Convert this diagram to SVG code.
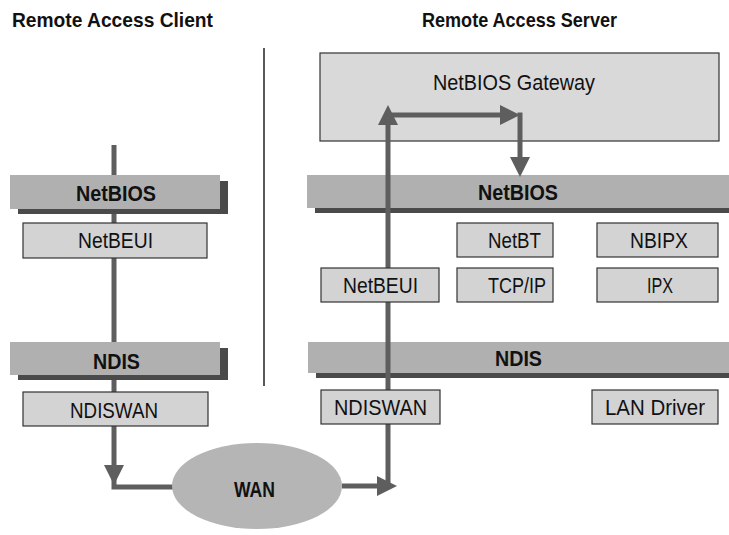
<svg xmlns="http://www.w3.org/2000/svg" width="729" height="535" viewBox="0 0 729 535">
<style>
text { font-family: "Liberation Sans Narrow", "Liberation Sans", Arial, sans-serif; fill: #111; }
.title { font-size: 20.5px; font-weight: bold; }
.lbl { font-size: 22px; }
.blbl { font-size: 22.5px; font-weight: bold; }
.bar { fill: #b0b0b0; }
.shadow { fill: #4a4a4a; }
.box { fill: #d3d3d3; stroke: #333; stroke-width: 1.2; }
.gw { fill: #d9d9d9; stroke: #333; stroke-width: 1.2; }
.wire { fill: none; stroke: #5e5e5e; stroke-width: 5; }
.divider { stroke: #222; stroke-width: 1.5; }
</style>
<defs>
<marker id="ah" markerUnits="userSpaceOnUse" markerWidth="22" markerHeight="22" refX="14" refY="10" orient="auto">
<path d="M0,0 L20,10 L0,20 z" fill="#5e5e5e"/>
</marker>
</defs>
<rect width="729" height="535" fill="#fff"/>

<g id="titles">
<text class="title" x="12" y="27" textLength="201" lengthAdjust="spacingAndGlyphs">Remote Access Client</text>
<text class="title" x="422" y="27" textLength="195" lengthAdjust="spacingAndGlyphs">Remote Access Server</text>
</g>
<line class="divider" x1="264" y1="48" x2="264" y2="386"/>

<g id="gateway">
<rect class="gw" x="320" y="53" width="399" height="88"/>
<text class="lbl" x="433" y="90" textLength="162" lengthAdjust="spacingAndGlyphs">NetBIOS Gateway</text>
</g>

<g id="client-wire">
<path class="wire" d="M114 145 V479" marker-end="url(#ah)"/>
<path class="wire" d="M114 478 V487 H176"/>
</g>

<g id="client-netbios">
<rect class="shadow" x="18" y="181" width="210" height="33"/>
<rect class="bar" x="10" y="175" width="210" height="34"/>
<text class="blbl" x="76" y="201" textLength="80" lengthAdjust="spacingAndGlyphs">NetBIOS</text>
</g>
<g id="client-netbeui">
<rect class="box" x="23" y="223" width="184" height="35"/>
<text class="lbl" x="78" y="248" textLength="75" lengthAdjust="spacingAndGlyphs">NetBEUI</text>
</g>
<g id="client-ndis">
<rect class="shadow" x="18" y="348" width="210" height="32"/>
<rect class="bar" x="10" y="342" width="210" height="33"/>
<text class="blbl" x="93" y="369" textLength="47" lengthAdjust="spacingAndGlyphs">NDIS</text>
</g>
<g id="client-ndiswan">
<rect class="box" x="23" y="392" width="185" height="34"/>
<text class="lbl" x="70" y="418" textLength="88" lengthAdjust="spacingAndGlyphs">NDISWAN</text>
</g>

<g id="server-netbios">
<rect class="shadow" x="315" y="180" width="414" height="33"/>
<rect class="bar" x="307" y="175" width="422" height="33"/>
<text class="blbl" x="478" y="200" textLength="80" lengthAdjust="spacingAndGlyphs">NetBIOS</text>
</g>
<g id="server-ndis">
<rect class="shadow" x="316" y="347" width="413" height="31"/>
<rect class="bar" x="308" y="342" width="421" height="31"/>
<text class="blbl" x="495" y="366" textLength="47" lengthAdjust="spacingAndGlyphs">NDIS</text>
</g>

<g id="server-wire">
<path class="wire" d="M342 486 H391" marker-end="url(#ah)"/>
<path class="wire" d="M388 488 V111" marker-end="url(#ah)"/>
<path class="wire" d="M388 115 H514" marker-end="url(#ah)"/>
<path class="wire" d="M520 112.5 V171" marker-end="url(#ah)"/>
</g>

<g id="wan">
<ellipse cx="257" cy="486" rx="85" ry="43" fill="#b5b5b5"/>
<text class="blbl" x="234" y="497" textLength="41" lengthAdjust="spacingAndGlyphs">WAN</text>
</g>

<g id="server-netbt">
<rect class="box" x="457" y="223" width="96" height="34"/>
<text class="lbl" x="488" y="248" textLength="53" lengthAdjust="spacingAndGlyphs">NetBT</text>
</g>
<g id="server-nbipx">
<rect class="box" x="597" y="223" width="121" height="34"/>
<text class="lbl" x="630" y="248" textLength="58" lengthAdjust="spacingAndGlyphs">NBIPX</text>
</g>
<g id="server-netbeui">
<rect class="box" x="321" y="268" width="118" height="34"/>
<text class="lbl" x="343" y="293" textLength="75" lengthAdjust="spacingAndGlyphs">NetBEUI</text>
</g>
<g id="server-tcpip">
<rect class="box" x="457" y="268" width="96" height="34"/>
<text class="lbl" x="488" y="293" textLength="58" lengthAdjust="spacingAndGlyphs">TCP/IP</text>
</g>
<g id="server-ipx">
<rect class="box" x="597" y="268" width="121" height="34"/>
<text class="lbl" x="647" y="293" textLength="26" lengthAdjust="spacingAndGlyphs">IPX</text>
</g>
<g id="server-ndiswan">
<rect class="box" x="321" y="390" width="119" height="34"/>
<text class="lbl" x="334" y="415" textLength="93" lengthAdjust="spacingAndGlyphs">NDISWAN</text>
</g>
<g id="server-lan-driver">
<rect class="box" x="592" y="390" width="126" height="34"/>
<text class="lbl" x="605" y="415" textLength="100" lengthAdjust="spacingAndGlyphs">LAN Driver</text>
</g>
</svg>
